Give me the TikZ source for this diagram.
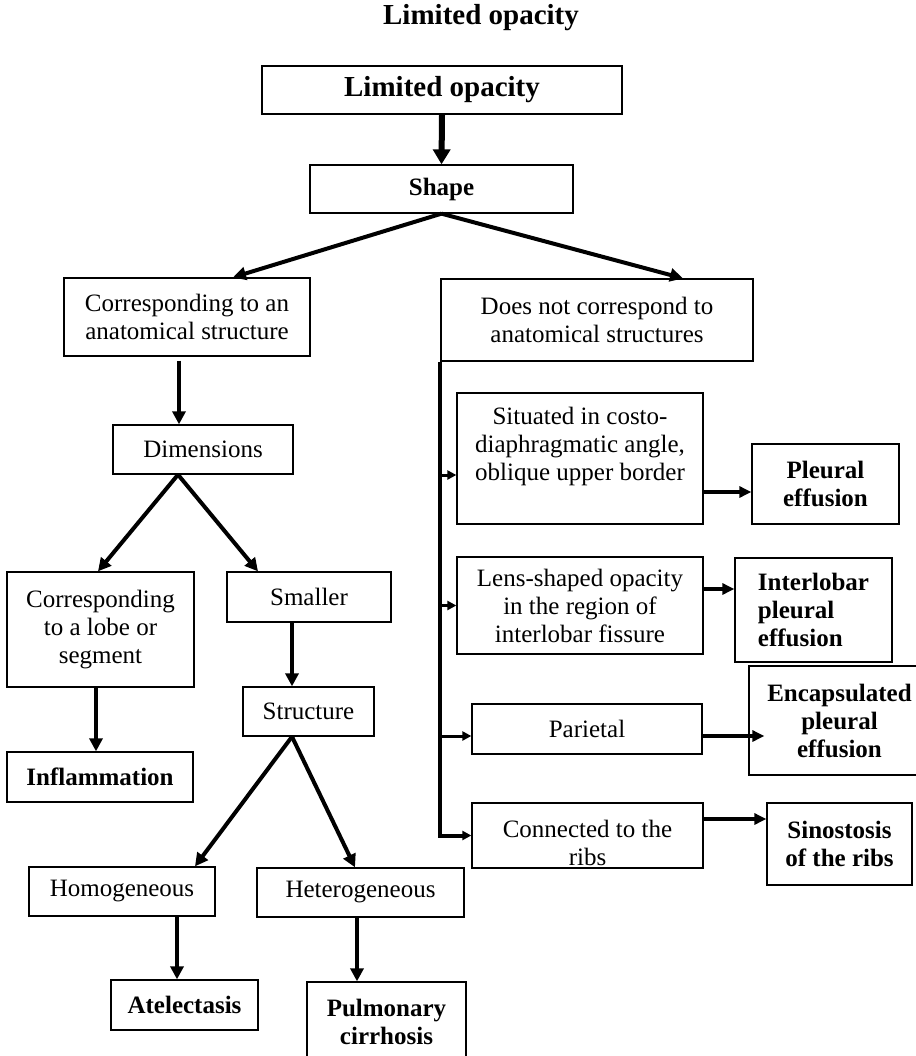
\documentclass[tikz,border=0pt]{standalone}
\usepackage{fontspec}
\setmainfont{Liberation Serif}
\usetikzlibrary{arrows.meta,calc}
\begin{document}
\begin{tikzpicture}[x=1pt,y=-1pt,
  box/.style={draw, line width=1.3pt, inner sep=0pt, align=center, font=\fontsize{25}{28}\selectfont},
  bbox/.style={box, font=\fontsize{25}{28}\selectfont\bfseries},
  txt/.style={inner sep=0pt, align=center, font=\fontsize{25}{28}\selectfont},
  arr/.style={line width=4pt, -{Triangle[length=13pt,width=13pt]}},
  bigarr/.style={line width=6pt, -{Triangle[length=15pt,width=17pt]}},
  rarr/.style={line width=3.5pt, -{Triangle[length=12pt,width=11pt]}},
  sarr/.style={line width=3pt, -{Triangle[length=9pt,width=9pt]}},
  vline/.style={line width=4pt}
]
\path[use as bounding box, fill=white] (0,0) rectangle (915,1056);

% title
\node[inner sep=0pt, anchor=base, font=\fontsize{29}{33}\selectfont\bfseries] (title) at (481,25) {Limited opacity};

% nodes
\node[bbox, font=\fontsize{29}{33}\selectfont\bfseries, minimum width=360pt, minimum height=48pt] (lo) at (442,90) {Limited opacity};
\node[bbox, minimum width=263pt, minimum height=48pt] (shape) at (441.5,189) {Shape};
\node[box, minimum width=246pt, minimum height=78pt] (corr) at (187,317) {Corresponding to an\\anatomical structure};
\node[box, minimum width=312pt, minimum height=82pt] (dn) at (597,320) {Does not correspond to\\anatomical structures};
\node[box, minimum width=180pt, minimum height=49pt] (dim) at (203,449.5) {Dimensions};
\node[box, minimum width=187pt, minimum height=115pt] (lobe) at (100.5,629.5) {Corresponding\\to a lobe or\\segment};
\node[box, minimum width=164pt, minimum height=50pt] (smaller) at (309,597) {Smaller};
\node[box, minimum width=131pt, minimum height=49pt] (struct) at (308.5,711.5) {Structure};
\node[bbox, minimum width=186pt, minimum height=50pt] (infl) at (100,777) {Inflammation};
\node[box, minimum width=186pt, minimum height=49pt] (homog) at (122,891.5) {Homogeneous};
\node[box, minimum width=207pt, minimum height=49pt] (het) at (360.5,892.5) {Heterogeneous};
\node[bbox, minimum width=147pt, minimum height=50pt] (atel) at (184.5,1005) {Atelectasis};
\node[bbox, minimum width=159pt, minimum height=80pt] (pulm) at (386.5,1022) {Pulmonary\\cirrhosis};

\node[box, minimum width=246pt, minimum height=131pt] (sit) at (580,458.5) {};
\node[txt] (sittxt) at (580,446) {Situated in costo-\\diaphragmatic angle,\\oblique upper border};
\node[bbox, minimum width=147pt, minimum height=80pt] (pl) at (825.5,484) {Pleural\\effusion};
\node[box, minimum width=246pt, minimum height=97pt] (lens) at (580,605.5) {Lens-shaped opacity\\in the region of\\interlobar fissure};
\node[bbox, align=left, minimum width=157pt, minimum height=104pt] (il) at (813.5,610) {Interlobar\\pleural\\effusion};
\node[box, minimum width=230pt, minimum height=50pt] (par) at (587,729) {Parietal};
\node[bbox, minimum width=181pt, minimum height=109pt] (enc) at (839.5,720.5) {Encapsulated\\pleural\\effusion};
\node[box, minimum width=231pt, minimum height=65pt] (conn) at (587.5,835.5) {};
\node[txt] (conntxt) at (587.5,843) {Connected to the\\ribs};
\node[bbox, minimum width=145pt, minimum height=82pt] (sin) at (839.5,844) {Sinostosis\\of the ribs};

% connectors: left side
\draw[bigarr] (lo.south) -- (shape.north);
\draw[arr] (shape.south) -- ([xshift=46pt]corr.north);
\draw[arr] (shape.south) -- ([xshift=86pt]dn.north);
\coordinate (d0) at ([xshift=-24pt]dim.north);
\draw[arr] ([yshift=-4pt]corr.south -| d0) -- (d0);
\coordinate (d1) at ([xshift=-25pt]dim.south);
\draw[arr] (d1) -- ([xshift=-2.5pt]lobe.north);
\draw[arr] (d1) -- ([xshift=-51pt]smaller.north);
\coordinate (s0) at ([xshift=-16.5pt]struct.north);
\draw[arr] (smaller.south -| s0) -- (s0);
\coordinate (s1) at ([xshift=-16.5pt]struct.south);
\draw[arr] (s1) -- ([xshift=73pt]homog.north);
\draw[arr] (s1) -- ([xshift=-5.5pt]het.north);
\coordinate (i0) at ([xshift=-4pt]infl.north);
\draw[arr] (lobe.south -| i0) -- (i0);
\coordinate (t0) at ([xshift=-7.5pt]atel.north);
\draw[arr] (homog.south -| t0) -- (t0);
\coordinate (p0) at ([xshift=-29.5pt]pulm.north);
\draw[arr] (het.south -| p0) -- (p0);

% connectors: right side
\draw[vline, -{Triangle[length=9pt,width=9pt]}] (dn.south west) |- (conn.west);
\coordinate (b1) at ([yshift=-16.5pt]sit.west);
\draw[sarr] (dn.south west |- b1) -- (b1);
\draw[sarr] (dn.south west |- lens.west) -- (lens.west);
\coordinate (b3) at ([yshift=-7pt]par.west);
\draw[sarr] (dn.south west |- b3) -- (b3);

\coordinate (a1) at ([yshift=-8pt]pl.west);
\draw[rarr] (sit.east |- a1) -- (a1);
\coordinate (a2) at ([yshift=21pt]il.west);
\draw[rarr] (lens.east |- a2) -- (a2);
\coordinate (a3) at ([xshift=16pt,yshift=-15.5pt]enc.west);
\draw[rarr] (par.east |- a3) -- (a3);
\coordinate (a4) at ([yshift=25pt]sin.west);
\draw[rarr] (conn.east |- a4) -- (a4);
\end{tikzpicture}
\end{document}
